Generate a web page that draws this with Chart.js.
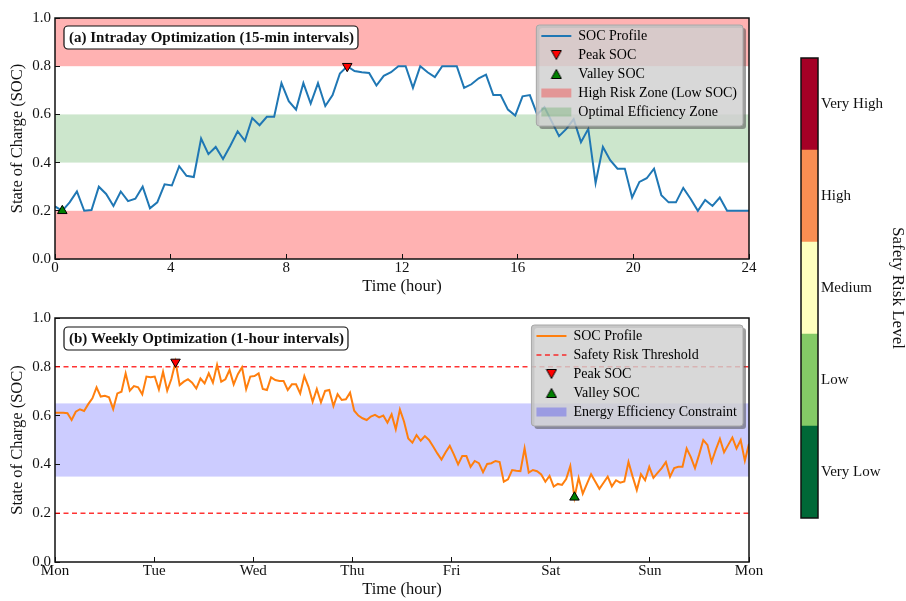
<!DOCTYPE html>
<html>
<head>
<meta charset="utf-8">
<script src="https://cdn.jsdelivr.net/npm/chart.js@4.4.1/dist/chart.umd.min.js"></script>
<style>
  html, body { margin: 0; padding: 0; background: #fff; }
  #wrap { position: relative; width: 906px; height: 601px; overflow: hidden; }
  canvas { position: absolute; }
</style>
</head>
<body>
<div id="wrap">
  <canvas id="dayChart" width="780" height="300" style="left:0;top:0"></canvas>
  <canvas id="weekChart" width="780" height="301" style="left:0;top:300px"></canvas>
  <canvas id="riskBar" width="136" height="601" style="left:770px;top:0"></canvas>
</div>
<script>
// (a) intraday SOC, 96 samples spread over 0..24 h
const daySoc = [
  0.218, 0.20, 0.235, 0.28, 0.20, 0.203, 0.30, 0.27, 0.22, 0.28,
  0.24, 0.25, 0.30, 0.21, 0.235, 0.31, 0.305, 0.385, 0.345, 0.34,
  0.50, 0.435, 0.465, 0.415, 0.47, 0.53, 0.49, 0.585, 0.555, 0.59,
  0.59, 0.73, 0.655, 0.62, 0.73, 0.645, 0.73, 0.635, 0.68, 0.77,
  0.80, 0.78, 0.775, 0.772, 0.72, 0.76, 0.775, 0.80, 0.80, 0.71,
  0.80, 0.775, 0.755, 0.80, 0.80, 0.80, 0.71, 0.725, 0.75, 0.765,
  0.68, 0.68, 0.62, 0.595, 0.675, 0.68, 0.60, 0.63, 0.57, 0.51,
  0.54, 0.58, 0.485, 0.54, 0.315, 0.465, 0.41, 0.375, 0.375, 0.255,
  0.32, 0.335, 0.375, 0.265, 0.235, 0.235, 0.295, 0.25, 0.20, 0.245,
  0.22, 0.255, 0.20, 0.20, 0.20, 0.20
];

// (b) weekly SOC, 168 hourly samples spread over 0..168 h
const weekSoc = [
  0.612, 0.612, 0.612, 0.61, 0.582, 0.616, 0.626, 0.619, 0.647, 0.671,
  0.716, 0.678, 0.681, 0.675, 0.627, 0.691, 0.698, 0.773, 0.702, 0.721,
  0.716, 0.687, 0.760, 0.757, 0.76, 0.707, 0.780, 0.702, 0.75, 0.82,
  0.725, 0.739, 0.749, 0.735, 0.711, 0.752, 0.732, 0.773, 0.735, 0.808,
  0.739, 0.749, 0.787, 0.728, 0.77, 0.798, 0.708, 0.76, 0.762, 0.773,
  0.709, 0.705, 0.757, 0.746, 0.742, 0.742, 0.705, 0.728, 0.728, 0.691,
  0.762, 0.718, 0.657, 0.709, 0.654, 0.701, 0.705, 0.639, 0.688, 0.664,
  0.667, 0.694, 0.620, 0.600, 0.589, 0.582, 0.596, 0.603, 0.593, 0.600,
  0.571, 0.605, 0.544, 0.625, 0.575, 0.506, 0.489, 0.520, 0.497, 0.516,
  0.500, 0.473, 0.445, 0.42, 0.45, 0.476, 0.44, 0.40, 0.434, 0.434,
  0.39, 0.414, 0.405, 0.368, 0.402, 0.405, 0.414, 0.41, 0.329, 0.339,
  0.377, 0.374, 0.372, 0.466, 0.366, 0.377, 0.372, 0.359, 0.329, 0.353,
  0.309, 0.320, 0.316, 0.34, 0.393, 0.265, 0.345, 0.28, 0.32, 0.36,
  0.33, 0.30, 0.325, 0.35, 0.31, 0.335, 0.325, 0.33, 0.41, 0.35,
  0.295, 0.36, 0.335, 0.39, 0.345, 0.365, 0.385, 0.41, 0.35, 0.385,
  0.39, 0.39, 0.465, 0.43, 0.385, 0.44, 0.50, 0.48, 0.41, 0.46,
  0.505, 0.45, 0.48, 0.51, 0.465, 0.50, 0.415, 0.485
];

const weekDays = ['Mon', 'Tue', 'Wed', 'Thu', 'Fri', 'Sat', 'Sun', 'Mon'];
const dayRiskZones = [[0, 0.2], [0.8, 1.0]];
const dayEffZone = [0.4, 0.6];
const weekThresholds = [0.2, 0.8];
const weekEffZone = [0.35, 0.65];
const riskLevels = ['Very Low', 'Low', 'Medium', 'High', 'Very High'];
const riskColors = ['#006837', '#84ca66', '#feffbe', '#f98e52', '#a50026'];

const FONT = "'Liberation Serif', 'Times New Roman', serif";
Chart.defaults.font.family = FONT;
Chart.defaults.font.size = 15;
Chart.defaults.color = '#111';
Chart.defaults.plugins.tooltip.enabled = false;

const RED_ZONE = 'rgba(255,0,0,0.3)';
const GREEN_ZONE = 'rgba(0,128,0,0.2)';
const BLUE_ZONE = 'rgba(0,0,255,0.2)';

function toPoints(values, span) {
  return values.map((v, i) => ({ x: i * span / (values.length - 1), y: v }));
}

function extremes(points) {
  const ys = points.map(p => p.y);
  return {
    peak: points[ys.indexOf(Math.max(...ys))],
    valley: points[ys.indexOf(Math.min(...ys))]
  };
}

function rrPath(ctx, x, y, w, h, r) {
  ctx.moveTo(x + r, y);
  ctx.arcTo(x + w, y, x + w, y + h, r);
  ctx.arcTo(x + w, y + h, x, y + h, r);
  ctx.arcTo(x, y + h, x, y, r);
  ctx.arcTo(x, y, x + w, y, r);
  ctx.closePath();
}

// small triangle glyphs for the legend (pointStyle image)
function triangleIcon(color, down) {
  const c = document.createElement('canvas');
  c.width = 12; c.height = 12;
  const g = c.getContext('2d');
  g.beginPath();
  if (down) { g.moveTo(1, 1.5); g.lineTo(11, 1.5); g.lineTo(6, 10.5); }
  else { g.moveTo(6, 1.5); g.lineTo(11, 10.5); g.lineTo(1, 10.5); }
  g.closePath();
  g.fillStyle = color;
  g.fill();
  g.strokeStyle = '#000';
  g.lineWidth = 1;
  g.stroke();
  return c;
}
const peakIcon = triangleIcon('#ff0000', true);
const valleyIcon = triangleIcon('#008000', false);

function drawLegendBg(chart) {
  const lg = chart.legend;
  const ctx = chart.ctx;
  const pad = lg.options.labels.padding;
  const cx = lg.left + pad;
  const y0 = lg.top + pad;
  const colW = lg.columnSizes[0].width;
  const lh = lg.options.labels.font.size + pad;
  const x1 = cx - 5, x2 = cx + colW + 6;
  const y1 = y0 - 4, y2 = y0 + lg.legendItems.length * lh + 2;
  ctx.save();
  // shadow only outside the box
  ctx.beginPath();
  rrPath(ctx, x1 + 3, y1 + 3, x2 - x1, y2 - y1, 3);
  rrPath(ctx, x1, y1, x2 - x1, y2 - y1, 3);
  ctx.fillStyle = 'rgba(80,80,80,0.55)';
  ctx.fill('evenodd');
  ctx.beginPath();
  rrPath(ctx, x1, y1, x2 - x1, y2 - y1, 3);
  ctx.fillStyle = 'rgba(208,208,208,0.82)';
  ctx.fill();
  ctx.strokeStyle = '#a8a8a8';
  ctx.lineWidth = 1;
  ctx.stroke();
  ctx.restore();
}

function panelPlugin(bands, label, labelTop) {
  return {
    id: 'panel',
    beforeInit(chart) {
      // legend sits inside the plot area, drawn above the data
      const lg = chart.legend;
      const fit0 = lg.fit;
      lg.fit = function () { fit0.call(this); this.width = 0; };
      lg._layers = () => [{ z: 10, draw: () => { drawLegendBg(chart); lg.draw(); } }];
    },
    afterLayout(chart) {
      const lg = chart.legend, a = chart.chartArea;
      const pad = lg.options.labels.padding;
      const colW = lg.columnSizes ? lg.columnSizes[0].width : 150;
      lg.left = a.right - 12 - colW - pad;
      lg.right = a.right;
      lg.width = lg.right - lg.left;
      lg.top = a.top + 11 - pad;
      lg.bottom = a.bottom;
      lg.height = lg.bottom - lg.top;
    },
    beforeDraw(chart) {
      const { ctx, chartArea: a, scales: { y } } = chart;
      ctx.save();
      bands.forEach(b => {
        const top = y.getPixelForValue(b.range[1]);
        const bot = y.getPixelForValue(b.range[0]);
        ctx.fillStyle = b.color;
        ctx.fillRect(a.left, top, a.width, bot - top);
      });
      ctx.restore();
    },
    afterDatasetsDraw(chart) {
      const { ctx, chartArea: a } = chart;
      ctx.save();
      ctx.strokeStyle = '#111';
      ctx.lineWidth = 1.5;
      ctx.strokeRect(a.left, a.top, a.width, a.height);
      ctx.restore();
    },
    afterDraw(chart) {
      const { ctx, chartArea: a } = chart;
      ctx.save();
      ctx.font = 'bold 15px ' + FONT;
      const tw = ctx.measureText(label).width;
      const bx = a.left + 9, by = a.top + labelTop, bw = tw + 9, bh = 23;
      ctx.beginPath();
      rrPath(ctx, bx, by, bw, bh, 4);
      ctx.fillStyle = '#fff';
      ctx.fill();
      ctx.strokeStyle = '#111';
      ctx.lineWidth = 1.2;
      ctx.stroke();
      ctx.fillStyle = '#111';
      ctx.textBaseline = 'middle';
      ctx.fillText(label, bx + 5, by + bh / 2 + 1);
      ctx.restore();
    }
  };
}

function socAxis() {
  return {
    min: 0, max: 1,
    ticks: { stepSize: 0.2, padding: 9, callback: v => v.toFixed(1) },
    grid: { drawOnChartArea: false, tickLength: -5, tickColor: '#111', tickWidth: 1 },
    border: { display: false },
    title: { display: true, text: 'State of Charge (SOC)', font: { size: 16.5 }, padding: { top: 8, bottom: 0 } },
    afterFit: s => { s.width = 55; }
  };
}

function timeAxis(max, step, cb, height, titlePad) {
  return {
    type: 'linear', min: 0, max: max,
    ticks: { stepSize: step, padding: 5, maxRotation: 0, autoSkip: false, callback: cb },
    grid: { drawOnChartArea: false, tickLength: -5, tickColor: '#111', tickWidth: 1 },
    border: { display: false },
    title: { display: true, text: 'Time (hour)', font: { size: 16.5 }, padding: { top: 0, bottom: titlePad } },
    afterFit: s => { s.height = height; }
  };
}

function markerSet(label, pt, color, rot) {
  return {
    label: label, data: [pt], showLine: false,
    pointStyle: 'triangle', pointRotation: rot, pointRadius: 5.5,
    pointBackgroundColor: color, pointBorderColor: '#000', pointBorderWidth: 1
  };
}

function legendOpts(items) {
  return {
    position: 'right', align: 'start',
    labels: {
      usePointStyle: true, pointStyleWidth: 30, boxHeight: 9, padding: 5,
      font: { size: 14 }, color: '#111',
      generateLabels: () => items
    }
  };
}

// ---- (a) intraday ----
const dayPts = toPoints(daySoc, 24);
const dayExt = extremes(dayPts);

new Chart(document.getElementById('dayChart'), {
  type: 'line',
  data: {
    datasets: [
      Object.assign(markerSet('Peak SOC', dayExt.peak, '#ff0000', 180), { order: 0 }),
      Object.assign(markerSet('Valley SOC', dayExt.valley, '#008000', 0), { order: 1 }),
      { label: 'SOC Profile', data: dayPts, borderColor: '#1f77b4', borderWidth: 2,
        pointRadius: 0, tension: 0, order: 2 }
    ]
  },
  options: {
    responsive: false, animation: false, devicePixelRatio: 1,
    layout: { padding: { left: 0, right: 31, top: 16, bottom: 0 } },
    plugins: {
      legend: legendOpts([
        { text: 'SOC Profile', pointStyle: 'line', strokeStyle: '#1f77b4', fillStyle: '#1f77b4', lineWidth: 2 },
        { text: 'Peak SOC', pointStyle: peakIcon, fillStyle: '#ff0000', strokeStyle: '#000', lineWidth: 1 },
        { text: 'Valley SOC', pointStyle: valleyIcon, fillStyle: '#008000', strokeStyle: '#000', lineWidth: 1 },
        { text: 'High Risk Zone (Low SOC)', pointStyle: 'rect', fillStyle: RED_ZONE, strokeStyle: RED_ZONE, lineWidth: 0 },
        { text: 'Optimal Efficiency Zone', pointStyle: 'rect', fillStyle: GREEN_ZONE, strokeStyle: GREEN_ZONE, lineWidth: 0 }
      ])
    },
    scales: {
      x: timeAxis(24, 4, v => v, 41, 3),
      y: socAxis()
    }
  },
  plugins: [panelPlugin(
    dayRiskZones.map(r => ({ range: r, color: RED_ZONE })).concat([{ range: dayEffZone, color: GREEN_ZONE }]),
    '(a) Intraday Optimization (15-min intervals)', 8
  )]
});

// ---- (b) weekly ----
const weekPts = toPoints(weekSoc, 168);
const weekExt = extremes(weekPts);

new Chart(document.getElementById('weekChart'), {
  type: 'line',
  data: {
    datasets: [
      Object.assign(markerSet('Peak SOC', weekExt.peak, '#ff0000', 180), { order: 0 }),
      Object.assign(markerSet('Valley SOC', weekExt.valley, '#008000', 0), { order: 1 }),
      { label: 'SOC Profile', data: weekPts, borderColor: '#ff7f0e', borderWidth: 2,
        pointRadius: 0, tension: 0, order: 2 }
    ].concat(weekThresholds.map(t => ({
      label: 'Safety Risk Threshold', data: [{ x: 0, y: t }, { x: 168, y: t }],
      borderColor: 'rgba(255,0,0,0.8)', borderWidth: 1.5, borderDash: [5, 3.5],
      pointRadius: 0, order: 3
    })))
  },
  options: {
    responsive: false, animation: false, devicePixelRatio: 1,
    layout: { padding: { left: 0, right: 31, top: 18, bottom: 0 } },
    plugins: {
      legend: legendOpts([
        { text: 'SOC Profile', pointStyle: 'line', strokeStyle: '#ff7f0e', fillStyle: '#ff7f0e', lineWidth: 2 },
        { text: 'Safety Risk Threshold', pointStyle: 'line', strokeStyle: 'rgba(255,0,0,0.8)', fillStyle: 'red', lineWidth: 1.5, lineDash: [5, 3.5] },
        { text: 'Peak SOC', pointStyle: peakIcon, fillStyle: '#ff0000', strokeStyle: '#000', lineWidth: 1 },
        { text: 'Valley SOC', pointStyle: valleyIcon, fillStyle: '#008000', strokeStyle: '#000', lineWidth: 1 },
        { text: 'Energy Efficiency Constraint', pointStyle: 'rect', fillStyle: 'rgba(0,0,255,0.25)', strokeStyle: BLUE_ZONE, lineWidth: 0 }
      ])
    },
    scales: {
      x: timeAxis(168, 24, v => weekDays[Math.round(v / 24)], 39, 1),
      y: socAxis()
    }
  },
  plugins: [panelPlugin(
    [{ range: weekEffZone, color: BLUE_ZONE }],
    '(b) Weekly Optimization (1-hour intervals)', 9
  )]
});

// ---- risk colour bar ----
const framePlugin = {
  id: 'frame',
  afterDatasetsDraw(chart) {
    const { ctx, chartArea: a } = chart;
    ctx.save();
    ctx.strokeStyle = '#111';
    ctx.lineWidth = 1.5;
    ctx.strokeRect(a.left, a.top, a.width, a.height);
    ctx.restore();
  }
};

new Chart(document.getElementById('riskBar'), {
  type: 'bar',
  data: {
    labels: [''],
    datasets: riskLevels.map((lv, i) => ({
      label: lv, data: [1], backgroundColor: riskColors[i], borderWidth: 0,
      barPercentage: 1, categoryPercentage: 1
    }))
  },
  options: {
    responsive: false, animation: false, devicePixelRatio: 1,
    layout: { padding: { left: 31, right: 0, top: 58, bottom: 83 } },
    plugins: { legend: { display: false } },
    scales: {
      x: { display: false, stacked: true },
      y: {
        position: 'right', stacked: true, min: 0, max: riskLevels.length,
        afterBuildTicks: s => { s.ticks = riskLevels.map((_, i) => ({ value: i + 0.5 })); },
        ticks: { padding: 7, autoSkip: false, callback: v => riskLevels[Math.floor(v)] },
        grid: { drawOnChartArea: false, tickLength: -4, tickColor: '#111', tickWidth: 1.2 },
        border: { display: false },
        title: { display: true, text: 'Safety Risk Level', font: { size: 17, lineHeight: 1.06 }, padding: { top: 0, bottom: 0 } },
        afterFit: s => { s.width = 88; }
      }
    }
  },
  plugins: [framePlugin]
});
</script>
</body>
</html>
